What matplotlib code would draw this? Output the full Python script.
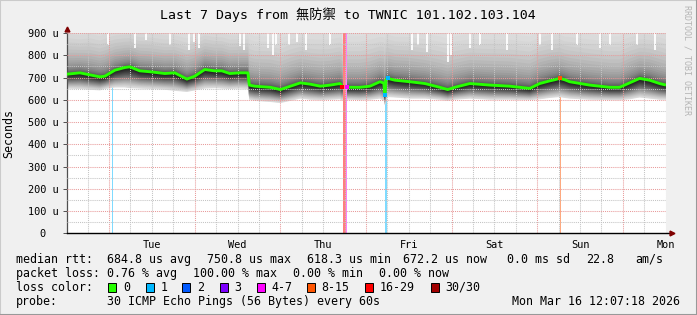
import numpy as np
import matplotlib
matplotlib.use("Agg")
import matplotlib.pyplot as plt
import matplotlib.transforms as mtrans
from matplotlib.patches import Rectangle
from matplotlib.lines import Line2D

W, H, DPI = 697, 315, 100

# ── data: hours since Mon 12:07, rtt in microseconds ──
hours = [0, 3.7, 6.5, 9.3, 10.7, 13.5, 16.3, 17.7, 20.5, 23.3, 27.5, 30.3, 33.7, 35.9,
         38.7, 41.5, 43.5, 45.7, 48.5, 50.8, 51.2, 52.7, 57.1, 59.9, 62.7, 65.5, 68.3,
         71.1, 73.9, 76.6, 77.3, 77.8, 78.6, 79.4, 82.2, 85.0, 87.8, 88.9, 89.2, 89.5,
         90.0, 92.0, 96.2, 100.4, 104.6, 106.8, 108.8, 113.0, 118.6, 124.2, 129.8, 132.6,
         135.4, 136.8, 138.2, 139.6, 141.0, 146.6, 152.2, 155.0, 157.8, 160.6, 163.4,
         166.2, 168]
median_us = [715, 721, 712, 703, 706, 733, 745, 748, 730, 726, 718, 721, 693, 706,
             736, 730, 730, 718, 721, 721, 666, 661, 656, 646, 661, 676, 670,
             661, 666, 673, 661, np.nan, 656, 656, 656, 661, 681, 675, 620, 690,
             696, 688, 681, 673, 656, 646, 656, 673, 666, 661, 651, 673,
             685, 690, 696, 690, 681, 666, 656, 656, 676, 696, 688,
             673, 666]
lowest_us = [650, 648, 645, 642, 648, 655, 655, 652, 650, 648, 645, 640, 635, 642,
             650, 652, 650, 648, 650, 648, 600, 595, 590, 585, 595, 605, 600,
             598, 600, 602, 595, np.nan, 600, 600, 598, 600, 605, 595, 575, 590,
             612, 610, 605, 605, 600, 595, 600, 605, 600, 600, 598, 602,
             608, 610, 612, 608, 605, 600, 598, 598, 602, 610, 605,
             600, 600]
highest_us = [940, 930, 940, 930, 940, 950, 950, 950, 940, 940, 930, 930, 920, 930,
              950, 940, 940, 930, 930, 930, 920, 910, 910, 900, 920, 930, 920,
              920, 920, 930, 920, np.nan, 910, 910, 910, 920, 930, 930, 930, 940,
              940, 930, 930, 920, 910, 900, 910, 920, 920, 920, 910, 930,
              940, 940, 940, 930, 930, 920, 910, 910, 930, 940, 940,
              930, 920]

# moments where even the slowest ping stayed below the top of the chart
gap_hours = [11.6, 19.1, 22.2, 28.9, 34.3, 35.7, 37.1, 48.6, 49.7, 56.4, 57.8, 58.7,
             62.3, 64.6, 67.1, 73.8, 96.8, 98.5, 101.0, 106.9, 107.7, 113.0, 115.8,
             123.4, 132.6, 136.0, 143.0, 149.5, 152.3, 159.8, 164.9]
gap_top_us = [846, 832, 868, 846, 823, 859, 832, 841, 823, 832, 800, 846,
              846, 859, 823, 846, 823, 846, 814, 769, 800, 832, 846,
              823, 846, 823, 846, 832, 846, 846, 823]

# loss bars (start hour, end hour, loss class)
loss_start = [12.6, 77.4, 78.4, 89.3, 138.3]
loss_end = [13.1, 78.4, 78.7, 89.8, 138.7]
loss_level = [1, 6, 4, 1, 5]

# median points that had loss
mark_hours = [77.3, 78.6, 89.2, 90.0, 138.4]
mark_us = [659, 658, 620, 696, 699]
mark_level = [6, 4, 1, 1, 5]

LOSS_LABELS = ["0", "1", "2", "3", "4-7", "8-15", "16-29", "30/30"]
LOSS_COLORS = ["#26ff00", "#00b8ff", "#0059ff", "#7e00ff", "#ff00ff", "#ff5500",
               "#ff0000", "#a10000"]

DAY_LABELS = ["Tue", "Wed", "Thu", "Fri", "Sat", "Sun", "Mon"]
FIRST_MIDNIGHT = 11.88  # Tue 00:00 in hours after start

MONO = "DejaVu Sans Mono"
LEG_FS = 8.4


def px(x, y):
    return x / W, 1 - y / H


fig = plt.figure(figsize=(W / DPI, H / DPI), dpi=DPI, facecolor="#f0f0f0")
x0, y0 = px(66.7, 233.3)
x1, y1 = px(666, 33)
ax = fig.add_axes([x0, y0, x1 - x0, y1 - y0])
ax.set_facecolor("white")

t = np.array(hours)
med = np.array(median_us, dtype=float)
lo = np.array(lowest_us, dtype=float)
hi = np.array(highest_us, dtype=float)

# loss bars behind the smoke
for s, e, lv in zip(loss_start, loss_end, loss_level):
    ax.axvspan(s, e, color=LOSS_COLORS[lv], alpha=0.5, lw=0, zorder=1)

# smoke: outer light bands to inner dark bands
N = 26
for k in range(N):
    f = 1 - k / N
    up = med + (hi - med) * f ** 2.7
    dn = med - (med - lo) * f ** 0.75
    g = 0.87 - 0.75 * (k / (N - 1)) ** 1.3
    ax.fill_between(t, dn, up, color=(g, g, g), lw=0, zorder=2)
ax.vlines(gap_hours, gap_top_us, 900, color="white", lw=1.3, zorder=2.2)

ax.plot(t, med, color=LOSS_COLORS[0], lw=2.1, zorder=4, solid_capstyle="butt")
for h, v, lv in zip(mark_hours, mark_us, mark_level):
    ax.plot(h, v, "s", ms=2.6, color=LOSS_COLORS[lv], mew=0, zorder=5)

ax.set_xlim(0, 168)
ax.set_ylim(0, 900)

# grid
dot = (0, (1, 1))
midnights = [FIRST_MIDNIGHT + 24 * i for i in range(7)]
six_h = [FIRST_MIDNIGHT - 6 + 6 * i for i in range(28) if i % 4 != 1]
for xg in six_h:
    if 0 < xg < 168:
        ax.axvline(xg, color="#c4c4c4", lw=0.75, ls=dot, zorder=3)
for xg in midnights:
    ax.axvline(xg, color="#e89a9a", lw=0.75, ls=dot, zorder=3)
for yg in range(50, 900, 100):
    ax.axhline(yg, color="#c4c4c4", lw=0.75, ls=dot, zorder=3)
for yg in range(100, 901, 100):
    ax.axhline(yg, color="#e89a9a", lw=0.75, ls=dot, zorder=3)

# axes
for sp in ["top", "right", "bottom"]:
    ax.spines[sp].set_visible(False)
ax.spines["left"].set_color("#505050")
ax.spines["left"].set_linewidth(0.9)
ax.add_line(Line2D([0, 1.008], [0, 0], transform=ax.transAxes, color="black",
                   lw=1.0, clip_on=False, zorder=6))
ax.plot([1.01], [0], ">", ms=3.5, color="#7f0000", transform=ax.transAxes,
        clip_on=False, zorder=7)
ax.plot([0], [1.018], "^", ms=3.5, color="#7f0000", transform=ax.transAxes,
        clip_on=False, zorder=7)

ax.set_yticks(range(0, 901, 100))
ax.set_yticklabels(["0"] + [f"{v} u" for v in range(100, 901, 100)],
                   family=MONO, fontsize=7.4)
ax.tick_params(axis="y", length=3, width=0.7, color="#505050", pad=3)
ax.set_xticks([FIRST_MIDNIGHT + 12 + 24 * i for i in range(7)])
ax.set_xticklabels(DAY_LABELS, family=MONO, fontsize=7.4)
ax.tick_params(axis="x", length=0, pad=4.5)
zero_lbl = ax.get_yticklabels()[0]
zero_lbl.set_transform(zero_lbl.get_transform() +
                       mtrans.ScaledTranslation(-12.6 / DPI, 0, fig.dpi_scale_trans))

ax.set_ylabel("Seconds", family=MONO, fontsize=LEG_FS)
ax.yaxis.set_label_coords((15.5 - 66.7) / (666 - 66.7), 0.5)

# title and watermark
fig.text(*px(348, 15), "Last 7 Days from 無防禦 to TWNIC 101.102.103.104",
         family=[MONO, "Noto Sans CJK SC"], fontsize=9.5, ha="center", va="center")
fig.text(*px(687.5, 60), "RRDTOOL / TOBI OETIKER", family=MONO, fontsize=6,
         color="#b4b4b4", rotation=270, ha="center", va="center")


# legend
def leg(x, y, s, **kw):
    fig.text(*px(x, y), s, family=MONO, fontsize=LEG_FS, va="center", **kw)


leg(16, 259.5, "median rtt:")
for x, s in [(107, "684.8 us avg"), (207.3, "750.8 us max"), (307.3, "618.3 us min"),
             (403.3, "672.2 us now"), (506.7, "0.0 ms sd"), (585.7, "22.8"),
             (635, "am/s")]:
    leg(x, 259.5, s)
leg(16, 273.5, "packet loss:")
for x, s in [(107, "0.76 % avg"), (193.3, "100.00 % max"), (293.3, "0.00 % min"),
             (379, "0.00 % now")]:
    leg(x, 273.5, s)
leg(16, 287.5, "loss color:")
box_x = [108.3, 145.7, 182.3, 219.7, 256.5, 307, 365.3, 430.7]
for bx, c, lab in zip(box_x, LOSS_COLORS, LOSS_LABELS):
    bx0, by0 = px(bx, 291.7)
    fig.patches.append(Rectangle((bx0, by0), 8 / W, 8.4 / H, transform=fig.transFigure,
                                 facecolor=c, edgecolor="black", lw=0.7))
    leg(bx + 14.7, 287.5, lab)
leg(16, 301.5, "probe:")
leg(107, 301.5, "30 ICMP Echo Pings (56 Bytes) every 60s")
leg(680, 301.5, "Mon Mar 16 12:07:18 2026", ha="right")

# 3d frame around the image
for xs, ys, c in [([0, 0], [0, 1], "#cbcbcb"), ([0, 1], [1, 1], "#cbcbcb"),
                  ([1, 1], [0, 1], "#999999"), ([0, 1], [0, 0], "#999999")]:
    fig.add_artist(Line2D(xs, ys, transform=fig.transFigure, color=c, lw=1.5))

fig.savefig("out.png", dpi=DPI, facecolor=fig.get_facecolor())
